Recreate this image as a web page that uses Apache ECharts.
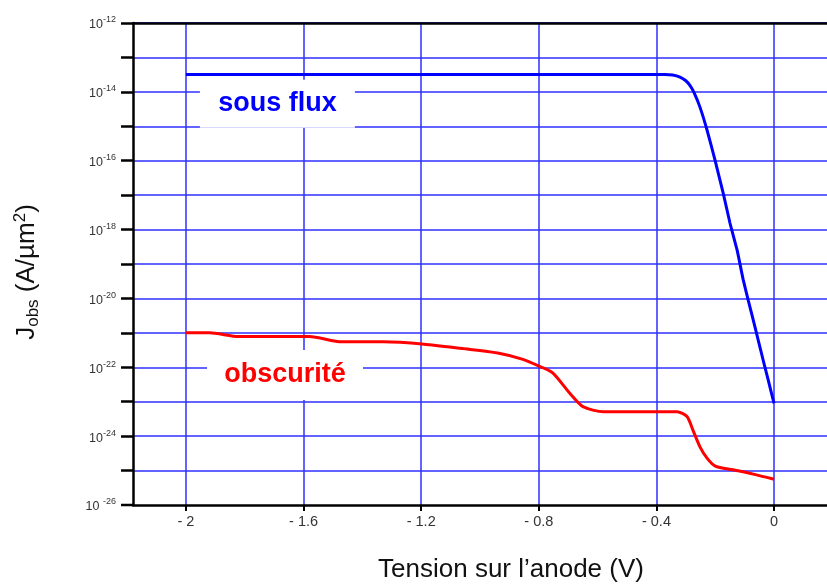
<!DOCTYPE html>
<html>
<head>
<meta charset="utf-8">
<script src="https://cdn.jsdelivr.net/npm/echarts@6/dist/echarts.min.js"></script>
<style>
  html, body { margin: 0; padding: 0; background: #fff; }
  #chart { width: 827px; height: 585px; }
</style>
</head>
<body>
<div id="chart"></div>
<script>
// Anode voltage (V) and observed current density (A/µm²), illuminated
const fluxVoltage = [-2.0, -0.371, -0.345, -0.32, -0.30, -0.285, -0.272, -0.252, -0.228, -0.201,
  -0.173, -0.150, -0.126, -0.105, -0.088, -0.065, -0.037, -0.020, 0.0];
const fluxCurrent = [3.2e-14, 3.2e-14, 3.1e-14, 2.7e-14, 2.1e-14, 1.5e-14, 9.5e-15, 3.6e-15,
  7.8e-16, 1.05e-16, 1.15e-17, 1.55e-18, 2.6e-19, 3.5e-20, 8.9e-21, 1.5e-21, 1.6e-22,
  4.3e-23, 8.9e-24];

// Same device in the dark
const darkVoltage = [-2.0, -1.92, -1.82, -1.58, -1.47, -1.33, -1.19, -1.06, -0.94, -0.854,
  -0.796, -0.752, -0.694, -0.65, -0.58, -0.33, -0.296, -0.276, -0.252, -0.228, -0.2,
  -0.139, -0.071, 0.0];
const darkCurrent = [1.0e-21, 1.0e-21, 7.8e-22, 7.8e-22, 5.5e-22, 5.5e-22, 4.7e-22, 3.5e-22,
  2.6e-22, 1.7e-22, 1.05e-22, 6.8e-23, 1.74e-23, 7.2e-24, 5.1e-24, 5.1e-24, 3.7e-24,
  1.5e-24, 4.9e-25, 2.3e-25, 1.35e-25, 1.05e-25, 7.9e-26, 5.6e-26];

// Axis ticks
const xMin = -2.18;
const xMax = 0.18;
const xTicks = [-2, -1.6, -1.2, -0.8, -0.4, 0];
const xTickLabels = ['- 2', '- 1.6', '- 1.2', '- 0.8', '- 0.4', '0'];
const yMinExp = -26;
const yMaxExp = -12;

// Curve labels: [voltage, current]
const fluxLabelAt = [-1.689, 4.5e-15];
const darkLabelAt = [-1.663, 6.0e-23];

const pair = (xs, ys) => xs.map((x, i) => [x, ys[i]]);

const gridBlue = '#2f2fff';
const labelFont = 'Liberation Sans';
const decadeRich = {
  b: { fontFamily: labelFont, fontSize: 12.5, color: '#333', fill: '#333', padding: [4, 0, 0, 0] },
  e: { fontFamily: labelFont, fontSize: 9, color: '#333', fill: '#333', padding: [0, 0, 6, 0] }
};
const decadeText = (e) => '{b|10' + (e === yMinExp ? ' ' : '') + '}{e|' + e + '}';

const chart = echarts.init(document.getElementById('chart'), null, { renderer: 'canvas' });

chart.setOption({
  animation: false,
  backgroundColor: '#fff',
  grid: { left: 133, right: 0, top: 23, bottom: 80, containLabel: false, outerBoundsMode: 'none' },
  graphic: [{
    id: 'yTitle',
    type: 'text',
    x: 27,
    y: 272,
    rotation: Math.PI / 2,
    style: {
      text: '{j|J}{sub|obs}{j| (A/\u00b5m}{sup|2}{j|)}',
      align: 'center',
      verticalAlign: 'middle',
      rich: {
        j: { fontFamily: labelFont, fontSize: 26, fill: '#111' },
        sub: { fontFamily: labelFont, fontSize: 17, fill: '#111', padding: [13, 0, 0, 0] },
        sup: { fontFamily: labelFont, fontSize: 17, fill: '#111', padding: [0, 0, 13, 0] }
      }
    }
  }],
  xAxis: [{
    type: 'value',
    min: xMin,
    max: xMax,
    position: 'bottom',
    name: 'Tension sur l\u2019anode (V)',
    nameLocation: 'middle',
    nameGap: 52,
    nameTextStyle: {
      fontFamily: labelFont, fontSize: 26, color: '#111',
      padding: [0, 0, 0, 62]
    },
    axisLine: { show: true, onZero: false, lineStyle: { color: '#000', width: 2.5 } },
    axisTick: { show: true, customValues: xTicks, length: 6, lineStyle: { color: '#000', width: 2 } },
    axisLabel: {
      customValues: xTicks,
      margin: 9,
      fontFamily: labelFont, fontSize: 14.5, color: '#333',
      formatter: (v) => {
        const i = xTicks.findIndex(t => Math.abs(t - v) < 1e-9);
        return i >= 0 ? xTickLabels[i] : '';
      }
    },
    splitLine: { show: true, lineStyle: { color: gridBlue, width: 1.5 } }
  }, {
    type: 'value',
    min: xMin,
    max: xMax,
    position: 'top',
    axisLine: { show: true, onZero: false, lineStyle: { color: '#000', width: 2.5 } },
    axisTick: { show: false },
    axisLabel: { show: false },
    splitLine: { show: false }
  }],
  yAxis: {
    type: 'log',
    logBase: 10,
    min: Math.pow(10, yMinExp),
    max: Math.pow(10, yMaxExp),
    interval: 1,
    position: 'left',
    axisLine: { show: true, onZero: false, lineStyle: { color: '#000', width: 2.5 } },
    axisTick: { show: true, length: 12, lineStyle: { color: '#000', width: 2.5 } },
    axisLabel: {
      margin: 17,
      showMaxLabel: true,
      hideOverlap: false,
      formatter: (v) => {
        const e = Math.round(Math.log10(v));
        // the bottom decade is labelled separately below
        if (e % 2 !== 0 || e === yMinExp) return '';
        return decadeText(e);
      },
      rich: decadeRich
    },
    splitLine: { show: true, lineStyle: { color: gridBlue, width: 1.5 } }
  },
  series: [{
    name: 'sous flux',
    type: 'line',
    data: pair(fluxVoltage, fluxCurrent),
    showSymbol: false,
    smooth: 0.12,
    lineStyle: { color: '#0000ff', width: 3 },
    z: 3,
    markPoint: {
      silent: true,
      symbol: 'rect',
      symbolSize: [155, 48],
      itemStyle: { color: '#fff' },
      label: {
        show: true, position: 'inside', formatter: 'sous flux',
        fontFamily: labelFont, fontWeight: 'bold', fontSize: 27, color: '#0000ff'
      },
      data: [{ coord: fluxLabelAt }]
    }
  }, {
    name: 'obscurit\u00e9',
    type: 'line',
    data: pair(darkVoltage, darkCurrent),
    showSymbol: false,
    smooth: 0.25,
    lineStyle: { color: '#ff0000', width: 3 },
    z: 3,
    markPoint: {
      silent: true,
      symbol: 'rect',
      symbolSize: [156, 50],
      itemStyle: { color: '#fff' },
      label: {
        show: true, position: 'inside', formatter: 'obscurit\u00e9',
        fontFamily: labelFont, fontWeight: 'bold', fontSize: 27, color: '#ff0000'
      },
      data: [{ coord: darkLabelAt }]
    }
  }]
});

// Tick and label for the bottom decade, placed through the axis scales
const axisX = chart.convertToPixel({ xAxisIndex: 0 }, xMin);
const bottomY = chart.convertToPixel({ yAxisIndex: 0 }, Math.pow(10, yMinExp));
chart.setOption({
  graphic: [{
    id: 'bottomTick',
    type: 'line',
    shape: { x1: axisX - 12, y1: bottomY, x2: axisX, y2: bottomY },
    style: { stroke: '#000', lineWidth: 2.5 },
    z: 10
  }, {
    id: 'bottomLabel',
    type: 'text',
    x: axisX - 17,
    y: bottomY,
    style: {
      text: decadeText(yMinExp),
      align: 'right',
      verticalAlign: 'middle',
      rich: decadeRich
    },
    z: 10
  }]
});
</script>
</body>
</html>
